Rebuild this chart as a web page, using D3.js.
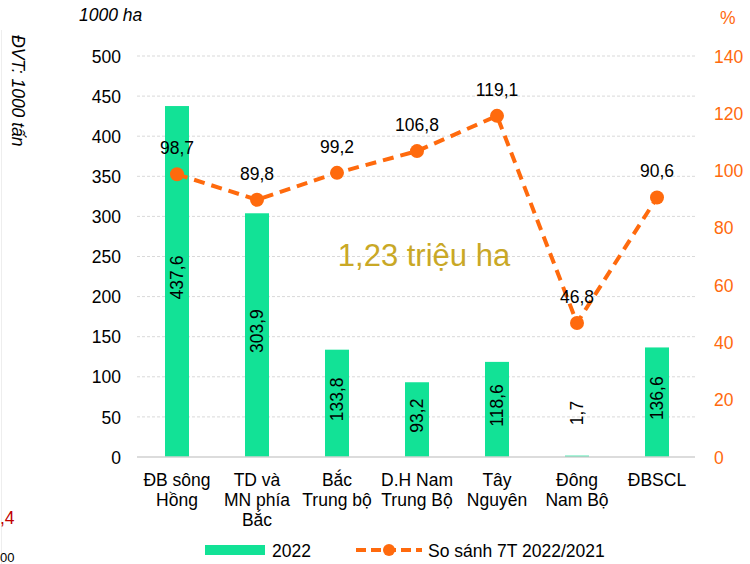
<!DOCTYPE html>
<html><head><meta charset="utf-8">
<script src="https://cdn.jsdelivr.net/npm/d3@7"></script>
<style>body{margin:0;background:#fff;}svg{display:block;font-family:"Liberation Sans",Arial,sans-serif;}</style>
</head><body><svg id="c" width="750" height="564"></svg>
<script>
const categories = [["ĐB sông","Hồng"],["TD và","MN phía","Bắc"],["Bắc","Trung bộ"],["D.H Nam","Trung Bộ"],["Tây","Nguyên"],["Đông","Nam Bộ"],["ĐBSCL"]];
const area2022 = [437.6, 303.9, 133.8, 93.2, 118.6, 1.7, 136.6];
const compare = [98.7, 89.8, 99.2, 106.8, 119.1, 46.8, 90.6];
const leftTicks = [0,50,100,150,200,250,300,350,400,450,500];
const rightTicks = [0,20,40,60,80,100,120,140];
const fmt = v => String(v).replace(".", ",");
const FS = 17.5;

const svg = d3.select("#c");
const x = d3.scaleBand().domain(d3.range(categories.length)).range([137, 697]).paddingInner(0.7).paddingOuter(0.35);
const yL = d3.scaleLinear().domain([0,500]).range([457, 56]);
const yR = d3.scaleLinear().domain([0,140]).range([457, 56]);
const green = "#12E296", orange = "#FF6A0D";

// grid
svg.append("g").selectAll("line").data(leftTicks.filter(d=>d>0)).join("line")
  .attr("x1",137).attr("x2",695).attr("y1",d=>yL(d)).attr("y2",d=>yL(d))
  .attr("stroke","#d9d9d9").attr("stroke-dasharray","3,2").attr("stroke-width",1);

// left axis
const gl = svg.append("g").attr("transform","translate(121,0)")
  .call(d3.axisLeft(yL).tickValues(leftTicks).tickSize(0).tickPadding(0));
gl.select(".domain").remove();
gl.selectAll("text").attr("font-size",FS).attr("fill","#000").attr("font-family","Liberation Sans, Arial, sans-serif").attr("dy","0.35em");

// right axis
const gr = svg.append("g").attr("transform","translate(714,0)")
  .call(d3.axisRight(yR).tickValues(rightTicks).tickSize(0).tickPadding(0));
gr.select(".domain").remove();
gr.selectAll("text").attr("font-size",FS).attr("fill",orange).attr("font-family","Liberation Sans, Arial, sans-serif").attr("dy","0.35em");

// bars
svg.append("g").selectAll("rect").data(area2022).join("rect")
  .attr("x",(d,i)=>x(i)).attr("width",x.bandwidth())
  .attr("y",d=>yL(d)).attr("height",d=>yL(0)-yL(d)).attr("fill",green);

// baseline
svg.append("line").attr("x1",137).attr("x2",695).attr("y1",yL(0)).attr("y2",yL(0)).attr("stroke","#d0d0d0").attr("stroke-width",1.5);

// bar labels
svg.append("g").selectAll("text").data(area2022).join("text")
  .attr("transform",(d,i)=>{
    const h = yL(0)-yL(d);
    const cy = h < 30 ? yL(0)-44 : (yL(d)+yL(0))/2 - 4;
    return `translate(${x(i)+x.bandwidth()/2},${cy}) rotate(-90)`;
  })
  .attr("text-anchor","middle").attr("dy","0.35em").attr("font-size",FS).attr("fill","#000")
  .text(d=>fmt(d));

// line
const cx = i => x(i)+x.bandwidth()/2;
svg.append("path").datum(compare)
  .attr("d",d3.line().x((d,i)=>cx(i)).y(d=>yR(d)))
  .attr("fill","none").attr("stroke",orange).attr("stroke-width",4).attr("stroke-dasharray","11,7");
svg.append("g").selectAll("circle").data(compare).join("circle")
  .attr("cx",(d,i)=>cx(i)).attr("cy",d=>yR(d)).attr("r",7).attr("fill",orange);
svg.append("g").selectAll("text").data(compare).join("text")
  .attr("x",(d,i)=>cx(i)).attr("y",d=>yR(d)-20).attr("text-anchor","middle")
  .attr("font-size",FS).attr("fill","#000").text(d=>fmt(d));

// category labels
const cg = svg.append("g").selectAll("text").data(categories).join("text")
  .attr("x",(d,i)=>cx(i)).attr("y",486).attr("text-anchor","middle").attr("font-size",FS).attr("fill","#000");
cg.selectAll("tspan").data(d=>d).join("tspan")
  .attr("x",function(){return this.parentNode.getAttribute("x");})
  .attr("dy",(d,j)=>j===0?0:20).text(d=>d);

// titles
svg.append("text").attr("x",79).attr("y",21).attr("font-size",FS).attr("font-style","italic").text("1000 ha");
svg.append("text").attr("x",720).attr("y",24).attr("font-size",FS).attr("fill",orange).text("%");
svg.append("text").attr("transform","translate(12,35) rotate(90)").attr("font-size",FS).attr("font-style","italic").text("ĐVT: 1000 tấn");
svg.append("text").attr("x",424).attr("y",266).attr("text-anchor","middle").attr("font-size",31).attr("fill","#C9A826").text("1,23 triệu ha");

// stray fragments at left edge
svg.append("line").attr("x1",1.5).attr("x2",1.5).attr("y1",30).attr("y2",564).attr("stroke","#eeeeee");
svg.append("text").attr("x",0).attr("y",524).attr("font-size",FS).attr("fill","#C00000").text(",4");
svg.append("text").attr("x",0).attr("y",562).attr("font-size",13).attr("fill","#000").text("00");

// legend
svg.append("rect").attr("x",205).attr("y",545).attr("width",60).attr("height",10).attr("fill",green);
svg.append("text").attr("x",272).attr("y",557).attr("font-size",FS).text("2022");
svg.append("line").attr("x1",356).attr("x2",422).attr("y1",550).attr("y2",550).attr("stroke",orange).attr("stroke-width",4).attr("stroke-dasharray","10,5");
svg.append("circle").attr("cx",389).attr("cy",550).attr("r",6).attr("fill",orange);
svg.append("text").attr("x",428).attr("y",557).attr("font-size",FS).text("So sánh 7T 2022/2021");
</script></body></html>
